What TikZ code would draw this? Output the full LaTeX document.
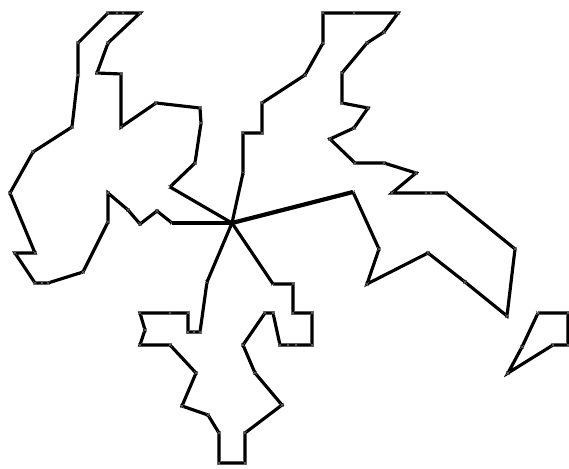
\documentclass[tikz,border=0pt]{standalone}
\usetikzlibrary{plotmarks}
\tikzset{
    outline/.style={
        wire/.style={line width=1.8pt, line join=miter, black},
        spoke/.style={line width=1.8pt, black},
        tick/.style={mark=x, mark size=1.6pt, mark options={solid, line width=0.35pt, black!60}},
    },
}

\begin{document}
\begin{tikzpicture}[outline, x=0.02cm, y=-0.02cm]
    \useasboundingbox (0,0) rectangle (569,469);
    \coordinate (hub) at (232,223);

    % western lobe
    \draw[wire] plot[tick] coordinates {(172,223) (157,211) (140,224) (128,210) (108,193)
        (108,222) (83,272) (48,283) (42,283) (35,283) (15,253) (35,253) (10,193) (33,152)
        (72,127) (78,75) (78,43) (108,13) (117,13) (123,13) (140,13) (108,43) (97,73)
        (121,74) (121,127) (156,103) (200,108) (201,123) (195,163) (170,187)};
    \draw[spoke] (hub) -- (172,223);
    \draw[spoke] (hub) -- (170,187);

    % north-eastern lobe
    \draw[wire] plot[tick] coordinates {(243,173) (243,133) (262,133) (262,103) (305,75)
        (323,43) (323,13) (354,13) (398,13) (384,32) (367,43) (342,73) (342,103) (368,108)
        (354,128) (330,139) (355,163) (384,163) (416,173) (392,193) (426,193) (431,193)
        (446,193) (515,249) (507,316) (465,282) (428,253) (367,284) (379,249) (353,192)};
    \draw[spoke] (hub) -- (243,173);
    \draw[spoke, line width=2.4pt] (hub) -- (353,192);

    % southern lobe
    \draw[wire] plot[tick] coordinates {(207,282) (200,332) (194,332) (188,332) (188,313)
        (170,313) (140,313) (145,330) (140,345) (170,345) (196,373) (182,406) (208,415)
        (219,433) (219,463) (245,463) (245,433) (282,405) (255,373) (243,345) (265,313)
        (273,313) (280,345) (288,345) (296,345) (312,345) (312,313) (293,313) (293,284)
        (273,284)};
    \draw[spoke] (hub) -- (207,282);
    \draw[spoke] (hub) -- (273,284);

    % detached piece
    \draw[wire] plot[tick] coordinates {(538,313) (568,313) (568,345) (553,345) (508,373)
        (522,347) (538,313)};
\end{tikzpicture}
\end{document}
